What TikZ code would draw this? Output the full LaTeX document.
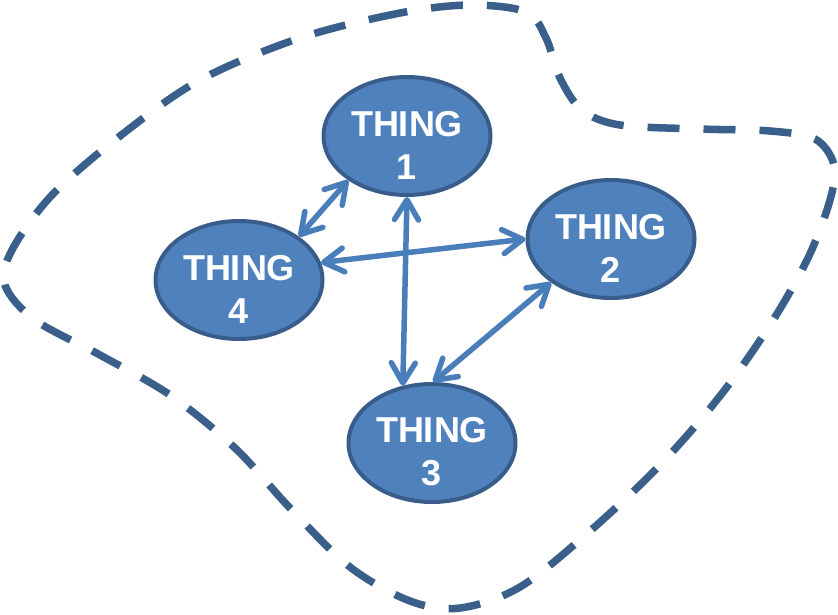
\documentclass[tikz,border=0pt]{standalone}
\usepackage{fontspec}
\setmainfont{Liberation Sans}[BoldFont={Liberation Sans Bold}]
\usetikzlibrary{arrows.meta,shapes.geometric}
\definecolor{fillblue}{HTML}{4F81BD}
\definecolor{edgeblue}{HTML}{385D8A}
\definecolor{arrowblue}{HTML}{4A7EBB}
\definecolor{outlineblue}{HTML}{3A5F8B}
\begin{document}
\begin{tikzpicture}[x=1pt,y=-1pt,
  thing/.style={ellipse, draw=edgeblue, fill=fillblue, line width=4pt,
    minimum width=167pt, minimum height=118pt, inner sep=0pt},
  thingtext/.style={align=center, text=white, yshift=-9pt, inner sep=0pt,
    font=\fontsize{36}{43}\selectfont\bfseries},
  barb/.tip={Straight Barb[length=20pt, width=24pt, round, line width=5.5pt]},
  link/.style={draw=arrowblue, line width=5.5pt, line cap=round, barb-barb},
  outline/.style={draw=outlineblue, line width=7.5pt, dash pattern=on 32pt off 24pt}]
\useasboundingbox (0,0) rectangle (838,614);

\draw[outline] plot[smooth cycle, tension=0.55] coordinates {
  (470,5) (400,13) (300,38) (200,80) (120,136) (52,195) (12,250) (5,285)
  (35,320) (100,355) (170,395) (235,448) (290,508) (350,567) (410,601)
  (460,608) (520,587) (590,531) (660,465) (720,396) (770,325) (808,258)
  (830,200) (834,165) (815,139) (770,131) (700,129) (620,125) (582,110)
  (560,78) (546,38) (526,12)};

\node[thing, label={[thingtext]center:THING\\1}] (t1) at (407,136) {};
\node[thing, label={[thingtext]center:THING\\2}] (t2) at (611,239) {};
\node[thing, label={[thingtext]center:THING\\3}] (t3) at (432,443) {};
\node[thing, label={[thingtext]center:THING\\4}] (t4) at (239,280) {};

\draw[link] (t1.217) -- (t4.36);
\draw[link] (t4.12) -- (t2.180);
\draw[link] (t1.270) -- (t3.117);
\draw[link] (t2.216) -- (t3.89);
\end{tikzpicture}
\end{document}
